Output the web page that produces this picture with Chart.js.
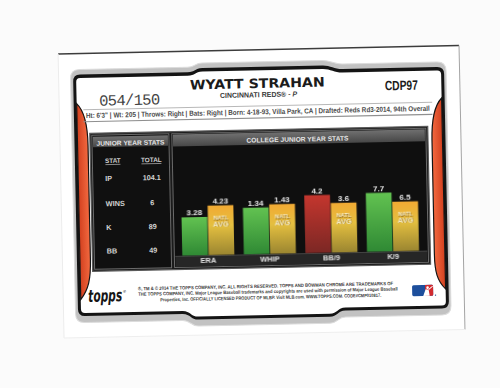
<!DOCTYPE html>
<html>
<head>
<meta charset="utf-8">
<title>Wyatt Strahan - College Junior Year Stats</title>
<script src="https://cdn.jsdelivr.net/npm/chart.js@4.4.1/dist/chart.umd.min.js"></script>
<style>
  html, body { margin: 0; padding: 0; background: #fbfbfb; }
  #page { position: relative; width: 500px; height: 388px; overflow: hidden; }
  /* the scanned card sits a little crooked */
  #card { position: absolute; left: 0; top: 0; width: 500px; height: 388px;
          transform: rotate(-1.2deg); transform-origin: 250px 190px; }
  #deco { position: absolute; left: 0; top: 0; }
  #statsChart { position: absolute; left: 172px; top: 148px; }
  text { font-family: "Liberation Sans", Arial, sans-serif; }
  .narrow { font-family: "Liberation Sans Narrow", "Liberation Sans", Arial, sans-serif; }
</style>
</head>
<body>
<div id="page">
 <div id="card">
  <svg id="deco" width="500" height="388" xmlns="http://www.w3.org/2000/svg">
   <defs>
    <linearGradient id="redL" x1="0" y1="0" x2="1" y2="0">
     <stop offset="0" stop-color="#d2401f"/><stop offset="1" stop-color="#f36a40"/>
    </linearGradient>
    <linearGradient id="redR" x1="1" y1="0" x2="0" y2="0">
     <stop offset="0" stop-color="#d2401f"/><stop offset="1" stop-color="#f36a40"/>
    </linearGradient>
    <linearGradient id="hdr" x1="0" y1="0" x2="0" y2="1">
     <stop offset="0" stop-color="#707070"/><stop offset="1" stop-color="#474747"/>
    </linearGradient>
   </defs>

   <!-- card stock -->
   <rect x="61" y="50" width="401" height="284" fill="#ffffff"/>
   <line x1="61" y1="50" x2="462" y2="50" stroke="#3c3c3c" stroke-width="1.5"/>
   <line x1="462" y1="50" x2="462" y2="334" stroke="#a4a4a4" stroke-width="1"/>
   <line x1="61" y1="50" x2="61" y2="334" stroke="#ececec" stroke-width="1"/>
   <line x1="61" y1="334" x2="462" y2="334" stroke="#eeeeee" stroke-width="1"/>

   <!-- frame -->
   <path id="bevelPath" fill="#c2c2c2" stroke="#dcdcdc" stroke-width="1"/>
   <path id="blackPath" fill="#141414"/>
   <path id="whitePath" fill="#ffffff"/>
   <path d="M78.5,100 C86.5,108 89,122 89,142 L89,256 C89,276 86.5,286 78.5,296 Z"
         fill="url(#redL)" stroke="#151515" stroke-width="1.2"/>
   <path d="M443.5,102 C435.5,110 433,124 433,144 L433,258 C433,276 435.5,285 443.5,293 Z"
         fill="url(#redR)" stroke="#151515" stroke-width="1.2"/>

   <!-- header -->
   <text x="192" y="88.2" font-size="13" font-weight="bold" fill="#1b1b1b" textLength="135"
         lengthAdjust="spacingAndGlyphs" style="font-family:'DejaVu Sans',sans-serif">WYATT STRAHAN</text>
   <text x="222" y="97.4" font-size="7.2" font-weight="bold" fill="#3a3a3a" textLength="77"
         lengthAdjust="spacingAndGlyphs">CINCINNATI REDS® - <tspan font-style="italic">P</tspan></text>
   <text class="narrow" x="387" y="93.2" font-size="13.5" font-weight="bold" fill="#1b1b1b"
         textLength="33" lengthAdjust="spacingAndGlyphs">CDP97</text>
   <text x="101" y="102.5" font-size="15.5" fill="#444444" textLength="61" lengthAdjust="spacing"
         style="font-family:'Liberation Mono','DejaVu Sans Mono',monospace">054/150</text>
   <line x1="85" y1="106.2" x2="434" y2="106.2" stroke="#b8b8b8" stroke-width="1"/>
   <line x1="85" y1="118.3" x2="434" y2="118.3" stroke="#8f8f8f" stroke-width="1.2"/>
   <text class="narrow" x="87.5" y="114.6" font-size="7.2" font-weight="bold" fill="#4a4a4a"
         textLength="344" lengthAdjust="spacingAndGlyphs">Ht: 6'3" | Wt: 205 | Throws: Right | Bats: Right | Born: 4-18-93, Villa Park, CA | Drafted: Reds Rd3-2014, 94th Overall</text>

   <!-- stats panel -->
   <rect x="91" y="130" width="338" height="138" fill="#1b1b1b" stroke="#5a5a5a" stroke-width="1.2"/>
   <rect x="93" y="132" width="77" height="134" fill="#101010" stroke="#6a6a6a" stroke-width="1"/>
   <rect x="94" y="133.5" width="75" height="10.5" fill="url(#hdr)"/>
   <text x="97.5" y="142.6" font-size="6.5" font-weight="bold" fill="#e4e4e4" textLength="68"
         lengthAdjust="spacingAndGlyphs">JUNIOR YEAR STATS</text>
   <text x="113.5" y="160" font-size="6.4" font-weight="bold" fill="#cfcfcf" text-anchor="middle">STAT</text>
   <line x1="106" y1="161.6" x2="121" y2="161.6" stroke="#bdbdbd" stroke-width="0.7"/>
   <text x="152" y="160" font-size="6.4" font-weight="bold" fill="#cfcfcf" text-anchor="middle">TOTAL</text>
   <line x1="142" y1="161.6" x2="162" y2="161.6" stroke="#bdbdbd" stroke-width="0.7"/>
   <g id="tableRows"></g>

   <rect x="173" y="132" width="254" height="134" fill="#0f0f0f" stroke="#6a6a6a" stroke-width="1"/>
   <rect x="174" y="133" width="252" height="12" fill="url(#hdr)"/>
   <text x="247.5" y="142.6" font-size="6.6" font-weight="bold" fill="#e4e4e4" textLength="102"
         lengthAdjust="spacingAndGlyphs">COLLEGE JUNIOR YEAR STATS</text>
   <rect x="174" y="254.5" width="252" height="11" fill="#262626"/>
   <line x1="174" y1="254.8" x2="426" y2="254.8" stroke="#4c4c4c" stroke-width="0.8"/>

   <!-- footer -->
   <text x="86" y="298.5" font-size="17" font-weight="bold" font-style="italic" fill="#151515"
         textLength="34" lengthAdjust="spacingAndGlyphs" style="font-family:'DejaVu Sans',sans-serif">topps</text>
   <text x="121" y="290" font-size="4" fill="#151515">®</text>
   <text class="narrow" x="136" y="288" font-size="4.8" font-weight="bold" fill="#3a3a3a" textLength="255"
         lengthAdjust="spacingAndGlyphs">®, TM &amp; © 2014 THE TOPPS COMPANY, INC.  ALL RIGHTS RESERVED. TOPPS AND BOWMAN CHROME ARE TRADEMARKS OF</text>
   <text class="narrow" x="136" y="293.5" font-size="4.8" font-weight="bold" fill="#3a3a3a" textLength="259.6"
         lengthAdjust="spacingAndGlyphs">THE TOPPS COMPANY, INC. Major League Baseball trademarks and copyrights are used with permission of Major League Baseball</text>
   <text class="narrow" x="158" y="299.5" font-size="4.8" font-weight="bold" fill="#3a3a3a" textLength="221"
         lengthAdjust="spacingAndGlyphs">Properties, Inc. OFFICIALLY LICENSED PRODUCT OF MLBP. Visit MLB.com. WWW.TOPPS.COM. CODE#CMP010817.</text>
   <rect x="410" y="288.6" width="21" height="11" rx="1.5" fill="#1d4f9c"/>
   <path d="M423,288.6 L429.5,288.6 Q431,288.6 431,290 L431,298.2 Q431,299.6 429.5,299.6 L423,299.6 Z" fill="#d12a2f"/>
   <circle cx="425.5" cy="291.3" r="1.3" fill="#ffffff"/>
   <path d="M421,299.6 L423.5,293 L426.5,293.5 L427.5,299.6 Z M426,293 L430.5,289.5 L430.8,290.2 L427,293.6 Z" fill="#ffffff"/>
   <circle cx="433.3" cy="299" r="0.7" fill="#1d4f9c"/>
  </svg>
  <canvas id="statsChart" width="256" height="120"></canvas>
 </div>
</div>

<script>
// chart data
const categories = ['ERA', 'WHIP', 'BB/9', 'K/9'];
const playerValues = [3.28, 1.34, 4.2, 7.7];
const natlAvgValues = [4.23, 1.43, 3.6, 6.5];

// left table data
const tableStats = ['IP', 'WINS', 'K', 'BB'];
const tableTotals = ['104.1', '6', '89', '49'];

// styles
const playerBarStyle = ['green', 'green', 'red', 'green'];
const barStops = {
    green: [[0, '#62c251'], [1, '#2f8934']],
    red: [[0, '#c4362e'], [1, '#7b2724']],
    gold: [[0, '#f2aa33'], [0.4, '#e4bf40'], [1, '#9a8530']]
};

// card frame with the raised top and dropped bottom edge
function framePath(l, t, r, b, rad, hump, dip) {
    return `M${l},${t + rad} Q${l},${t} ${l + rad},${t} L190,${t} C198,${t} 197,${t - hump} 205,${t - hump} ` +
        `L325,${t - hump} C333,${t - hump} 337,${t} 345,${t} L${r - rad},${t} Q${r},${t} ${r},${t + rad} ` +
        `L${r},${b - rad} Q${r},${b} ${r - rad},${b} L343,${b} C335,${b} 335,${b + dip} 327,${b + dip} ` +
        `L196,${b + dip} C188,${b + dip} 188,${b} 180,${b} L${l + rad},${b} Q${l},${b} ${l},${b - rad} Z`;
}
document.getElementById('bevelPath').setAttribute('d', framePath(73, 66, 448.5, 319, 9, 4, 6));
document.getElementById('blackPath').setAttribute('d', framePath(75.5, 71, 446.5, 312.5, 7, 4, 6));
document.getElementById('whitePath').setAttribute('d', framePath(78.5, 74.5, 443.5, 309.5, 4, 4, 6));

// table rows
const rowBaselines = [178, 203.2, 227, 250.6];
const rows = document.getElementById('tableRows');
tableStats.forEach(function(stat, i) {
    [[stat, 105.5, 'start'], [tableTotals[i], 152, 'middle']].forEach(function(cell) {
        const t = document.createElementNS('http://www.w3.org/2000/svg', 'text');
        t.setAttribute('x', cell[1]);
        t.setAttribute('y', rowBaselines[i]);
        t.setAttribute('font-size', '7.3');
        t.setAttribute('font-weight', 'bold');
        t.setAttribute('fill', '#d2d2d2');
        t.setAttribute('text-anchor', cell[2]);
        t.textContent = cell[0];
        rows.appendChild(t);
    });
});

// vertical gradient from the top of each bar to the baseline
function barGradient(ctx, stops) {
    const chart = ctx.chart;
    const area = chart.chartArea;
    if (!area || ctx.raw == null) return stops[stops.length - 1][1];
    const ds = chart.data.datasets[ctx.datasetIndex];
    const top = chart.scales[ds.yAxisID].getPixelForValue(ctx.raw);
    const g = chart.ctx.createLinearGradient(0, top, 0, area.bottom);
    stops.forEach(s => g.addColorStop(s[0], s[1]));
    return g;
}

// every category is scaled on its own so the national average bars line up
const datasets = [];
const scales = { x: { type: 'category', display: false } };
categories.forEach(function(cat, i) {
    const onlyAt = v => categories.map((c, j) => (j === i ? v : null));
    datasets.push({
        label: cat + ' Strahan',
        data: onlyAt(playerValues[i]),
        yAxisID: 'y' + i,
        skipNull: true,
        backgroundColor: ctx => barGradient(ctx, barStops[playerBarStyle[i]])
    });
    datasets.push({
        label: cat + ' Natl avg',
        data: onlyAt(natlAvgValues[i]),
        yAxisID: 'y' + i,
        skipNull: true,
        natl: true,
        backgroundColor: ctx => barGradient(ctx, barStops.gold)
    });
    scales['y' + i] = { display: false, min: 0, max: natlAvgValues[i] * 2.1 };
});

// value labels, NATL AVG captions and category names
const barText = {
    id: 'barText',
    afterDatasetsDraw(chart) {
        const c = chart.ctx;
        c.save();
        c.textAlign = 'center';
        chart.data.datasets.forEach(function(ds, di) {
            chart.getDatasetMeta(di).data.forEach(function(bar, idx) {
                const v = ds.data[idx];
                if (v == null) return;
                c.font = 'bold 8px "Liberation Sans", Arial, sans-serif';
                c.fillStyle = '#e6e6e6';
                c.fillText(String(v), bar.x, bar.y - 1.5);
                if (ds.natl) {
                    c.fillStyle = '#f8efcc';
                    c.shadowColor = 'rgba(110, 75, 15, 0.8)';
                    c.shadowOffsetX = 0.5;
                    c.shadowOffsetY = 0.5;
                    c.shadowBlur = 0.5;
                    c.font = 'bold 5.8px "Liberation Sans", Arial, sans-serif';
                    c.fillText('NATL', bar.x, bar.y + 14.5);
                    c.font = 'bold 7.5px "Liberation Sans", Arial, sans-serif';
                    c.fillText('AVG', bar.x, bar.y + 21.2);
                    c.shadowColor = 'transparent';
                }
            });
        });
        const xs = chart.scales.x;
        c.font = 'bold 7.5px "Liberation Sans", Arial, sans-serif';
        c.fillStyle = '#e2e2e2';
        categories.forEach(function(cat, i) {
            c.fillText(cat, xs.getPixelForValue(i), chart.chartArea.bottom + 7.8);
        });
        c.restore();
    }
};

new Chart(document.getElementById('statsChart').getContext('2d'), {
    type: 'bar',
    data: { labels: categories, datasets: datasets },
    options: {
        responsive: false,
        animation: false,
        layout: { padding: { left: 4.2, right: 5.5, top: 2, bottom: 13.5 } },
        datasets: { bar: { categoryPercentage: 0.856, barPercentage: 0.975 } },
        plugins: { legend: { display: false }, tooltip: { enabled: false } },
        scales: scales
    },
    plugins: [barText]
});
</script>
</body>
</html>
